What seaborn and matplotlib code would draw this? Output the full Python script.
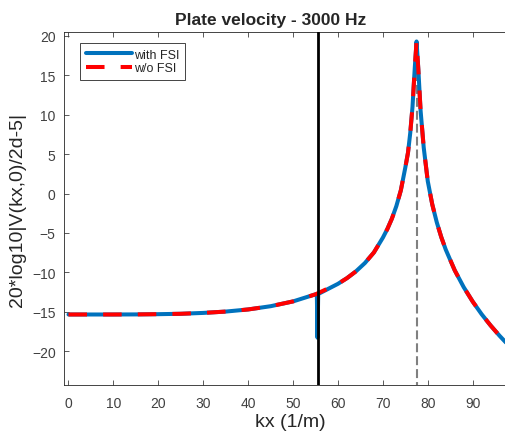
import matplotlib
matplotlib.use("Agg")
import numpy as np
import pandas as pd
import matplotlib.pyplot as plt
import seaborn as sns

# wavenumber axis (1/m) and plate velocity level (dB)
kx = [0, 5, 10, 15, 20, 25, 30, 35, 40, 45, 50, 55, 60, 62, 64, 66, 68, 70,
      71, 72, 73, 74, 75, 75.6, 76.1, 76.6, 77.1, 77.5, 77.9, 78.4, 79.1, 80, 81,
      82, 83, 84, 86, 88, 90, 92, 94, 96, 98, 100]
level_wo_fsi = [-15.35, -15.35, -15.35, -15.34, -15.31, -15.26, -15.15, -14.98,
                -14.71, -14.30, -13.69, -12.79, -11.46, -10.74, -9.88, -8.82,
                -7.48, -5.6, -4.5, -3.2, -1.6, 0.4, 3.3, 5.2, 7.7, 11.0, 15.9,
                19.3, 15.75, 10.53, 5.83, 1.57, -1.38, -3.64, -5.52, -7.11,
                -9.74, -11.88, -13.71, -15.32, -16.75, -18.06, -19.27, -20.39]

# narrow dip of the coupled (with FSI) curve at the acoustic wavenumber
notch_kx = [55.3, 55.45, 55.6]
notch_level = [-12.8, -18.3, -12.75]

k_acoustic = 55.45   # black line
k_bending = 77.5     # grey dashed line
peak_level = 19.4

df_wo = pd.DataFrame({"kx": kx, "level": level_wo_fsi})
df_with = pd.concat([df_wo, pd.DataFrame({"kx": notch_kx, "level": notch_level})])
df_with = df_with.sort_values("kx").reset_index(drop=True)

sns.set_style("ticks")
plt.rcParams["font.family"] = ["Liberation Sans", "DejaVu Sans"]

fig = plt.figure(figsize=(5.06, 4.39), dpi=100)
ax = fig.add_axes([0.1265, 0.1207, 0.8964, 0.8041])

sns.lineplot(data=df_with, x="kx", y="level", ax=ax, color="#0072BD",
             linewidth=2.9, estimator=None, label="with FSI")
sns.lineplot(data=df_wo, x="kx", y="level", ax=ax, color="#FF0000",
             linewidth=2.9, estimator=None, linestyle=(0, (4.6, 4.0)),
             label="w/o FSI")

ax.axvline(k_acoustic, color="black", linewidth=2.0, zorder=5)
ax.plot([k_bending, k_bending], [-25, peak_level], color="#808080",
        linewidth=1.5, linestyle=(0, (4.3, 1.9)), zorder=1)

ax.set_xlim(-1, 100)
ax.set_ylim(-24.3, 20.5)
ax.set_xticks(np.arange(0, 100, 10))
ax.set_yticks(np.arange(-20, 21, 5))

ax.tick_params(direction="in", top=True, right=True, length=3.5, width=0.6,
               labelsize=10, colors="#404040")
ax.tick_params(axis="x", pad=8)
ax.tick_params(axis="y", pad=6)
for s in ax.spines.values():
    s.set_linewidth(0.6)
    s.set_color("#262626")

ax.set_xlabel("kx (1/m)", fontsize=14, color="#262626", labelpad=2)
ax.set_ylabel("20*log10|V(kx,0)/2d-5|", fontsize=14, color="#262626", labelpad=4)
ax.set_title("Plate velocity - 3000 Hz", fontsize=12.5, fontweight="bold", x=0.456, pad=6)

leg = ax.legend(loc="upper left", bbox_to_anchor=(0.035, 0.969), borderaxespad=0,
                fontsize=9, handlelength=3.7, handletextpad=0.2, labelspacing=0.15,
                borderpad=0.45, fancybox=False, framealpha=1)
leg.get_frame().set_edgecolor("#262626")
leg.get_frame().set_linewidth(0.6)

plt.savefig("out.png", dpi=100)
